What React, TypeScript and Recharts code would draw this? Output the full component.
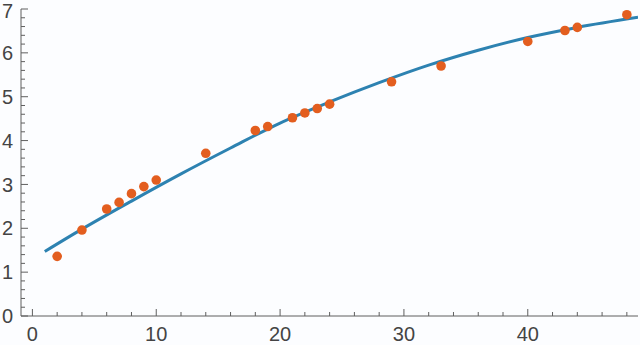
import { ComposedChart, Scatter, Line, XAxis, YAxis } from 'recharts'

const pointX = [2, 4, 6, 7, 8, 9, 10, 14, 18, 19, 21, 22, 23, 24, 29, 33, 40, 43, 44, 48]
const pointY = [1.36, 1.96, 2.44, 2.59, 2.79, 2.95, 3.1, 3.71, 4.23, 4.32, 4.52, 4.63, 4.73, 4.83, 5.34, 5.7, 6.26, 6.51, 6.58, 6.87]

const fitX = [1, 4, 8, 12, 16, 20, 24, 28, 32, 36, 40, 44, 48.9]
const fitY = [1.47, 1.98, 2.62, 3.24, 3.83, 4.4, 4.88, 5.32, 5.72, 6.06, 6.35, 6.58, 6.81]

const xTicks = [0, 2, 4, 6, 8, 10, 12, 14, 16, 18, 20, 22, 24, 26, 28, 30, 32, 34, 36, 38, 40, 42, 44, 46, 48]
const yTicks = [
  0, 0.2, 0.4, 0.6, 0.8, 1, 1.2, 1.4, 1.6, 1.8, 2, 2.2, 2.4, 2.6, 2.8, 3, 3.2, 3.4, 3.6, 3.8, 4,
  4.2, 4.4, 4.6, 4.8, 5, 5.2, 5.4, 5.6, 5.8, 6, 6.2, 6.4, 6.6, 6.8, 7,
]

const points = pointX.map((x, i) => ({ x, y: pointY[i] }))
const fit = fitX.map((x, i) => ({ x, y: fitY[i] }))

const FRAME = '#5f5f5f'
const LABEL = '#444'
const FONT = 'Liberation Sans, Arial, sans-serif'
const isMajorX = (v: number) => Math.abs(v % 10) < 1e-6
const isMajorY = (v: number) => Math.abs(v - Math.round(v)) < 1e-6

const BottomTick = (props: any) => {
  const { x, y, payload } = props
  const major = isMajorX(payload.value)
  return (
    <g>
      <line x1={x} x2={x} y1={y} y2={y - (major ? 7 : 4)} stroke={FRAME} />
      {major && (
        <text x={x} y={y + 25} textAnchor="middle" fontSize={20} fill={LABEL} fontFamily={FONT}>
          {payload.value}
        </text>
      )}
    </g>
  )
}

const TopTick = (props: any) => {
  const { x, y, payload } = props
  const major = isMajorX(payload.value)
  return <line x1={x} x2={x} y1={y} y2={y + (major ? 7 : 4)} stroke={FRAME} />
}

const LeftTick = (props: any) => {
  const { x, y, payload } = props
  const major = isMajorY(payload.value)
  // keep the top label inside the picture
  const ty = Math.max(y, 11)
  return (
    <g>
      <line x1={x} x2={x + (major ? 7 : 4)} y1={y} y2={y} stroke={FRAME} />
      {major && (
        <text x={x - 8} y={ty} dy="0.36em" textAnchor="end" fontSize={20} fill={LABEL} fontFamily={FONT}>
          {Math.round(payload.value)}
        </text>
      )}
    </g>
  )
}

const RightTick = (props: any) => {
  const { x, y, payload } = props
  const major = isMajorY(payload.value)
  return <line x1={x} x2={x - (major ? 7 : 4)} y1={y} y2={y} stroke={FRAME} />
}

export default function App() {
  return (
    <div style={{ position: 'absolute', left: 0, top: 0, width: 640, height: 345, background: '#fcfdff' }}>
      <ComposedChart width={640} height={345} margin={{ top: 9, right: 2, left: 0, bottom: 0 }}>
        <XAxis
          xAxisId="b"
          dataKey="x"
          type="number"
          domain={[-0.92, 48.9]}
          allowDataOverflow
          ticks={xTicks}
          interval={0}
          height={29}
          tickSize={0}
          tickMargin={0}
          tickLine={false}
          tick={BottomTick}
          axisLine={{ stroke: FRAME }}
        />
        <XAxis
          xAxisId="t"
          orientation="top"
          dataKey="x"
          type="number"
          domain={[-0.92, 48.9]}
          allowDataOverflow
          ticks={xTicks}
          interval={0}
          height={0}
          tickSize={0}
          tickMargin={0}
          tickLine={false}
          tick={TopTick}
          axisLine={{ stroke: FRAME }}
        />
        <YAxis
          yAxisId="l"
          dataKey="y"
          type="number"
          domain={[0, 7]}
          allowDataOverflow
          ticks={yTicks}
          interval={0}
          width={21}
          tickSize={0}
          tickMargin={0}
          tickLine={false}
          tick={LeftTick}
          axisLine={{ stroke: FRAME }}
        />
        <YAxis
          yAxisId="r"
          orientation="right"
          dataKey="y"
          type="number"
          domain={[0, 7]}
          allowDataOverflow
          ticks={yTicks}
          interval={0}
          width={0}
          tickSize={0}
          tickMargin={0}
          tickLine={false}
          tick={RightTick}
          axisLine={{ stroke: FRAME }}
        />
        <Scatter
          xAxisId="b"
          yAxisId="l"
          data={points}
          dataKey="y"
          isAnimationActive={false}
          shape={(p: any) => <circle cx={p.cx} cy={p.cy} r={4.8} fill="#e35e1f" />}
        />
        <Line
          xAxisId="b"
          yAxisId="l"
          data={fit}
          dataKey="y"
          type="monotone"
          stroke="#2d82b1"
          strokeWidth={3}
          dot={false}
          activeDot={false}
          isAnimationActive={false}
        />
      </ComposedChart>
    </div>
  )
}
